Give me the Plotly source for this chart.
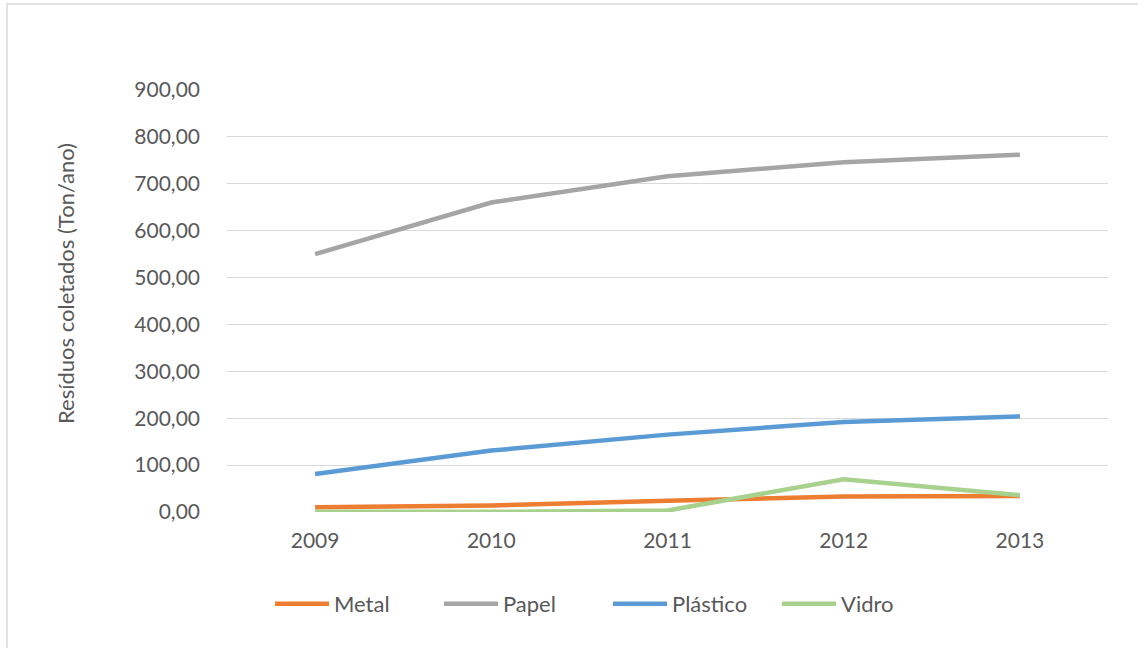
import plotly.graph_objects as go

years = ["2009", "2010", "2011", "2012", "2013"]
metal = [10, 14, 24, 33, 34]
papel = [550, 660, 716, 746, 762]
plastico = [81, 131, 165, 192, 204]
vidro = [0.5, 0.5, 3, 70, 36]
y_ticks = [0, 100, 200, 300, 400, 500, 600, 700, 800, 900]
y_tick_text = ["0,00", "100,00", "200,00", "300,00", "400,00", "500,00",
               "600,00", "700,00", "800,00", "900,00"]

series = [
    ("Metal", metal, "#ED7D31"),
    ("Papel", papel, "#A5A5A5"),
    ("Plástico", plastico, "#5B9BD5"),
    ("Vidro", vidro, "#A9D18E"),
]

FONT = "Lato"
fig = go.Figure()
for name, vals, col in series:
    fig.add_trace(go.Scatter(x=years, y=vals, name=name, mode="lines",
                             line=dict(color=col, width=4.5)))

W, H = 1138, 648
L, R, T, B = 227, 30, 90, 136
pw, ph = W - L - R, H - T - B

def px(x):
    return (x - L) / pw

def py(y):
    return (H - B - y) / ph

fig.update_layout(
    width=W, height=H,
    margin=dict(l=L, r=R, t=T, b=B),
    paper_bgcolor="white", plot_bgcolor="white",
    font=dict(family=FONT, size=21, color="#595959"),
    showlegend=True,
    legend=dict(orientation="h", x=px(270), xanchor="left", y=py(604), yanchor="middle",
                font=dict(family=FONT, size=22, color="#595959"),
                bgcolor="rgba(0,0,0,0)", itemwidth=54,
                entrywidth=100, entrywidthmode="pixels"),
    xaxis=dict(type="category", range=[-0.5, 4.5], showgrid=False, zeroline=False,
               showline=False, ticks="", tickfont=dict(size=21, color="#595959"),
               ticklabelstandoff=14, fixedrange=True),
    yaxis=dict(range=[0, 900], tickvals=y_ticks, ticktext=y_tick_text,
               showgrid=True, gridcolor="#D9D9D9", gridwidth=1,
               zeroline=False, showline=False, ticks="",
               tickfont=dict(size=21, color="#595959"),
               ticklabelstandoff=26, fixedrange=True),
    annotations=[dict(text="Resíduos coletados (Ton/ano)", textangle=-90,
                      xref="paper", yref="paper", x=px(65), y=py(284),
                      xanchor="center", yanchor="middle", showarrow=False,
                      font=dict(family=FONT, size=22, color="#595959"))],
    shapes=[dict(type="rect", xref="paper", yref="paper",
                 x0=px(7), x1=px(1150), y0=py(660), y1=py(4),
                 line=dict(color="#D9D9D9", width=1.5), layer="below")],
)

fig.write_html("out.html", config={"displayModeBar": False},
               post_script="document.body.style.margin='0';document.body.style.overflow='hidden';")
